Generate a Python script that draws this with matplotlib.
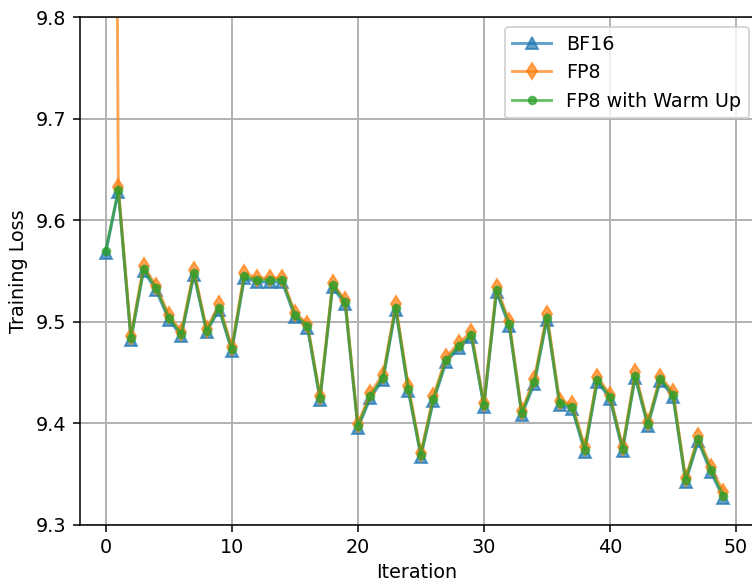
import matplotlib
matplotlib.use("Agg")
import matplotlib.pyplot as plt
import numpy as np

# Data (training loss per iteration)
iterations = list(range(50))

bf16 = [9.568, 9.628, 9.482, 9.550, 9.531, 9.502, 9.486, 9.546, 9.490, 9.512,
        9.471, 9.543, 9.539, 9.539, 9.539, 9.505, 9.494, 9.423, 9.534, 9.517,
        9.395, 9.425, 9.443, 9.512, 9.432, 9.367, 9.422, 9.460, 9.474, 9.485,
        9.416, 9.529, 9.496, 9.408, 9.439, 9.502, 9.418, 9.414, 9.372, 9.441,
        9.424, 9.373, 9.445, 9.397, 9.442, 9.426, 9.342, 9.382, 9.352, 9.326]

fp8 = [12.000, 9.633, 9.486, 9.555, 9.535, 9.507, 9.490, 9.551, 9.493, 9.517,
       9.475, 9.548, 9.543, 9.543, 9.543, 9.509, 9.498, 9.427, 9.538, 9.521,
       9.399, 9.430, 9.448, 9.517, 9.437, 9.371, 9.427, 9.465, 9.479, 9.490,
       9.420, 9.534, 9.501, 9.412, 9.444, 9.508, 9.422, 9.419, 9.377, 9.446,
       9.428, 9.377, 9.450, 9.401, 9.446, 9.431, 9.346, 9.387, 9.357, 9.332]

fp8_warmup = [9.570, 9.630, 9.484, 9.552, 9.533, 9.504, 9.488, 9.548, 9.491, 9.514,
              9.473, 9.545, 9.541, 9.541, 9.541, 9.507, 9.496, 9.425, 9.536, 9.519,
              9.397, 9.427, 9.445, 9.514, 9.434, 9.369, 9.424, 9.462, 9.476, 9.487,
              9.418, 9.531, 9.498, 9.410, 9.441, 9.504, 9.420, 9.416, 9.374, 9.443,
              9.426, 9.375, 9.447, 9.399, 9.444, 9.428, 9.344, 9.384, 9.354, 9.328]

W, H, DPI = 752, 582, 138

fig = plt.figure(figsize=(W / DPI, H / DPI), dpi=DPI)
# axes placed in pixel terms: left spine x=80, top y=17, bottom y=525, right just past the edge
left, right, top, bottom = 80, 754.3, 17.3, 524.7
ax = fig.add_axes([left / W, 1 - bottom / H, (right - left) / W, (bottom - top) / H])

ax.plot(iterations, bf16, marker='^', color='tab:blue', alpha=0.7, label='BF16')
ax.plot(iterations, fp8, marker='d', color='tab:orange', alpha=0.7, label='FP8')
ax.plot(iterations, fp8_warmup, marker='o', markersize=4, color='tab:green',
        alpha=0.7, label='FP8 with Warm Up')

ax.set_ylim(9.3, 9.8)
ax.set_xlim(-2.04, 51.45)
ax.set_yticks([9.3, 9.4, 9.5, 9.6, 9.7, 9.8])
ax.set_xticks([0, 10, 20, 30, 40, 50])
ax.set_xlabel('Iteration', labelpad=3)
ax.set_ylabel('Training Loss')
ax.grid(True, color='#b0b0b0', linewidth=1.0)
ax.legend(loc='upper right', bbox_to_anchor=(1.006, 1.0))

fig.savefig('out.png', dpi=DPI)
